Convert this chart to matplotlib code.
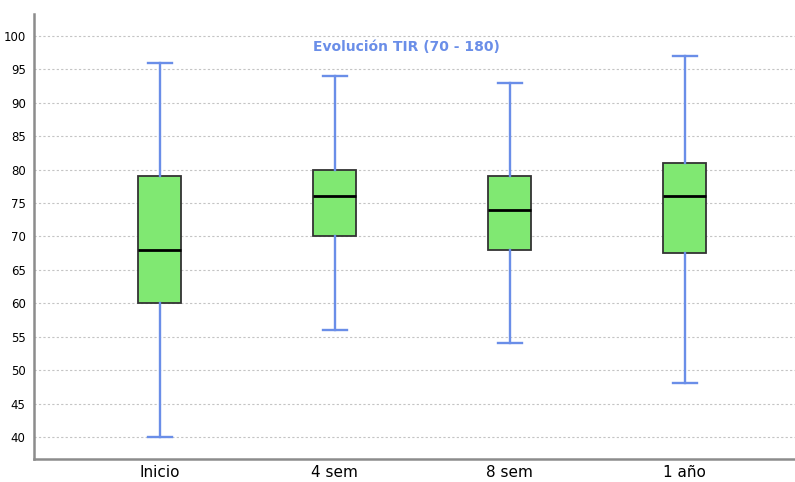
import matplotlib.pyplot as plt

categorias = ['Inicio', '4 sem', '8 sem', '1 año']
minimos = [40, 56, 54, 48]
q1 = [60, 70, 68, 67.5]
medianas = [68, 76, 74, 76]
q3 = [79, 80, 79, 81]
maximos = [96, 94, 93, 97]

fig = plt.figure(figsize=(7.95, 4.82), dpi=100)
ax = fig.add_axes([34 / 795, 1 - 459 / 482, 761 / 795, 445 / 482])

stats = []
for i, nombre in enumerate(categorias):
    stats.append({'label': nombre, 'whislo': minimos[i], 'q1': q1[i],
                  'med': medianas[i], 'q3': q3[i], 'whishi': maximos[i]})

ax.bxp(stats, positions=range(len(categorias)), widths=0.246,
       showfliers=False, patch_artist=True,
       boxprops=dict(facecolor='#80E872', edgecolor='#333333', linewidth=1.3),
       medianprops=dict(color='black', linewidth=2),
       whiskerprops=dict(color='#6A8EE8', linewidth=1.7),
       capprops=dict(color='#6A8EE8', linewidth=1.7), capwidths=0.14)

ax.set_xlim(-0.72, 3.63)
ax.set_ylim(36.7, 103.3)
ax.set_yticks(range(40, 101, 5))
ax.grid(axis='y', linestyle=(0, (2, 2)), color='#c4c4c4', linewidth=0.8)
ax.set_axisbelow(True)

for lado in ['top', 'right']:
    ax.spines[lado].set_visible(False)
for lado in ['left', 'bottom']:
    ax.spines[lado].set_color('#8c8c8c')
    ax.spines[lado].set_linewidth(1.8)

ax.tick_params(axis='y', length=0, labelsize=8.5, pad=6)
ax.tick_params(axis='x', length=0, labelsize=11, pad=4)

ax.text(0.49, 0.925, 'Evolución TIR (70 - 180)', transform=ax.transAxes,
        ha='center', va='center', color='#6A8EE8', fontsize=10, fontweight='bold')

fig.savefig('out.png', dpi=100)
